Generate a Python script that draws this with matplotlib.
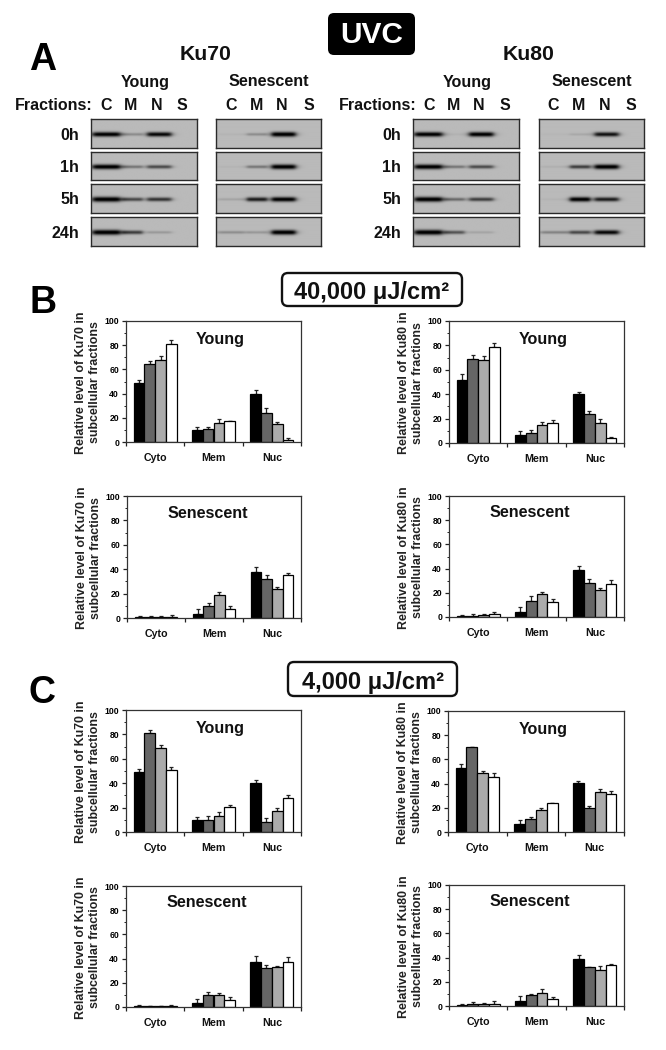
import numpy as np
import matplotlib
matplotlib.use("Agg")
import matplotlib.pyplot as plt
from matplotlib.patches import FancyBboxPatch
from matplotlib.ticker import MultipleLocator

plt.rcParams['font.family'] = ['Liberation Sans', 'DejaVu Sans']
plt.rcParams['font.weight'] = 'bold'

W, H = 666, 1050
categories = ['Cyto', 'Mem', 'Nuc']
bar_colors = ['#000000', '#666666', '#ababab', '#ffffff']
timepoints = ['0h', '1h', '5h', '24h']
lanes = ['C', 'M', 'N', 'S']

# Band strengths read from the blots: rows = timepoints, columns = C, M, N
ku70_young_bands = [[.85, .2, .8], [.95, .3, .5], [1, .5, .6], [1, .55, .15]]
ku70_sen_bands = [[.03, .2, .9], [.03, .3, .95], [.1, .7, .85], [.2, .15, .9]]
ku80_young_bands = [[.85, .03, .85], [.95, .3, .5], [.95, .35, .55], [1, .45, .1]]
ku80_sen_bands = [[.02, .08, .75], [.05, .55, .95], [.03, .85, .7], [.25, .5, .8]]

# Bar heights and error bars, rows = Cyto, Mem, Nuc; columns = four time points
b_k70_y = [[49, 64.5, 68, 81], [10, 10.5, 16, 17], [40, 24, 15, 1.5]]
b_k70_y_e = [[2.5, 2.5, 3, 3], [2.5, 2, 3, .7], [3, 4, 1.5, 1.5]]
b_k80_y = [[52, 68.5, 68, 79], [6.5, 8, 15, 16], [40.5, 23.5, 16.5, 4.5]]
b_k80_y_e = [[4.5, 4, 3, 3], [3, 2.5, 2, 3], [1.5, 3, 3, .7]]
b_k70_s = [[1, 1.2, 1, 1.2], [3, 10, 18.5, 7.5], [38, 32, 24, 35]]
b_k70_s_e = [[.6, .6, .6, 1], [4, 2.5, 3, 2.5], [4, 3, 1.5, 2]]
b_k80_s = [[1, 1, 1.5, 2.5], [4, 13.5, 19, 12.5], [38.5, 28.5, 22.5, 27.5]]
b_k80_s_e = [[.8, 1.5, 1, 2], [4.5, 3.5, 1.5, 2.5], [4, 2.5, 1.5, 3]]
c_k70_y = [[49, 81, 69, 51], [10, 10, 13.5, 20.5], [40, 8.5, 17, 28]]
c_k70_y_e = [[2.5, 2.5, 2.5, 2.5], [2.5, 3, 3, 2], [2.5, 3, 2.5, 2.5]]
c_k80_y = [[52.5, 70, 49, 45.5], [7, 10.5, 18.5, 24], [40.5, 19.5, 33, 31]]
c_k80_y_e = [[4, .3, 1.5, 3], [3, 1.5, 1.5, .2], [1.5, 2, 2.5, 3]]
c_k70_s = [[.5, .5, .5, .5], [3, 10, 10, 5.5], [37.5, 32, 33, 37.5]]
c_k70_s_e = [[1.5, .7, .5, .8], [4, 2, 1.5, 2.5], [4.5, 3, .5, 4]]
c_k80_s = [[.5, 2, 1.5, 2], [4, 9, 11, 6], [39, 32, 30, 34]]
c_k80_s_e = [[1.5, 1.5, .7, 2], [4.5, .7, 3, 1.5], [3.5, .5, 3, .5]]

fig = plt.figure(figsize=(W / 100, H / 100), dpi=100, facecolor='white')


def px_axes(x0, y0, x1, y1, **kw):
    return fig.add_axes([x0 / W, 1 - y1 / H, (x1 - x0) / W, (y1 - y0) / H], **kw)


def bar_panel(box, vals, errs, title, protein):
    ax = px_axes(*box)
    vals = np.array(vals, float)
    errs = np.array(errs, float)
    w = 0.185
    for s in range(4):
        x = np.arange(3) + 0.5 + (s - 1.5) * w
        ax.bar(x, vals[:, s], width=w, color=bar_colors[s], edgecolor='black',
               linewidth=0.9, zorder=2)
        ax.errorbar(x, vals[:, s], yerr=[np.zeros(3), errs[:, s]], fmt='none',
                    ecolor='#222222', elinewidth=0.9, capsize=1.3, capthick=0.9, zorder=1)
    ax.set_xlim(0, 3)
    ax.set_ylim(0, 100)
    ax.set_xticks([0, 1, 2, 3])
    ax.set_xticklabels([])
    ax.set_xticks([0.5, 1.5, 2.5], categories, minor=True, fontsize=7.7, fontweight='bold')
    ax.tick_params(axis='x', which='major', length=3, width=0.9, color='#222222')
    ax.tick_params(axis='x', which='minor', length=0, pad=8, labelcolor='#111111')
    ax.yaxis.set_major_locator(MultipleLocator(20))
    ax.yaxis.set_minor_locator(MultipleLocator(10))
    ax.tick_params(axis='y', which='major', length=3, width=0.9, labelsize=6.2, pad=2, color='#222222')
    ax.tick_params(axis='y', which='minor', length=1.8, width=0.7, color='#222222')
    for lab in ax.get_yticklabels():
        lab.set_fontweight('bold')
    for side in ax.spines:
        ax.spines[side].set_linewidth(0.9)
        ax.spines[side].set_color('#333333')
    tx, ty = (0.54, 0.845) if title == 'Young' else (0.462, 0.86)
    ax.text(tx, ty, title, transform=ax.transAxes, ha='center', va='center',
            fontsize=11.6, fontweight='bold', color='#111111')
    ann.text(box[0] - 38, (box[1] + box[3]) / 2 + 1,
             f'Relative level of {protein} in\nsubcellular fractions',
             rotation=90, ha='center', va='center', fontsize=8.9, fontweight='bold',
             color='#222222', linespacing=1.18)


def blot(box, row):
    ax = px_axes(*box)
    nx, ny = 210, 60
    xx = np.linspace(0, 1, nx)
    yy = np.linspace(0, 1, ny)
    X, Y = np.meshgrid(xx, yy)
    img = np.full_like(X, 0.73)
    for i, (cx, hw) in enumerate(((0.145, 0.135), (0.39, 0.10), (0.645, 0.118))):
        s = row[i]
        profile = 1 / (1 + ((X - cx) / hw) ** 8)
        sig = 0.04 + 0.05 * s
        img -= 0.78 * min(1, s * 1.15) * profile * np.exp(-((Y - 0.53) / sig) ** 2)
    ax.imshow(np.clip(img, 0, 1), cmap='gray', vmin=0, vmax=1, aspect='auto')
    ax.set_xticks([])
    ax.set_yticks([])
    for side in ax.spines:
        ax.spines[side].set_linewidth(1.0)
        ax.spines[side].set_color('#2a2a2a')


# Overlay in pixel coordinates for labels and boxes
ann = fig.add_axes([0, 0, 1, 1], zorder=5)
ann.set_xlim(0, W)
ann.set_ylim(H, 0)
ann.axis('off')
ann.patch.set_alpha(0)

# Blots
rows_y = [(119, 148), (152, 180), (184, 213), (217, 246)]
blot_sets = [((91, 197), ku70_young_bands), ((216, 321), ku70_sen_bands),
             ((413, 519), ku80_young_bands), ((539, 644), ku80_sen_bands)]
for (x0, x1), bands in blot_sets:
    for (y0, y1), row in zip(rows_y, bands):
        blot((x0, y0, x1, y1), row)

dark = '#111111'
for letter, x, y in (('A', 42.5, 60), ('B', 43, 303), ('C', 42.5, 693)):
    ann.text(x, y, letter, fontsize=27, fontweight='bold', ha='center', va='center', color='black')

ann.text(206, 54, 'Ku70', fontsize=15.3, ha='center', va='center', color=dark)
ann.text(529, 54, 'Ku80', fontsize=15.3, ha='center', va='center', color=dark)

for x, t in ((145, 'Young'), (269, 'Senescent'), (467, 'Young'), (592, 'Senescent')):
    ann.text(x, 82, t, fontsize=11.6, ha='center', va='center', color=dark)

for x, t in ((15, 'Fractions:'), (339, 'Fractions:')):
    ann.text(x, 106, t, fontsize=11.5, ha='left', va='center', color=dark)

lane_x = [[106, 131, 157, 182], [231, 257, 282, 309], [429, 454, 479, 505], [553, 579, 605, 631]]
for xs in lane_x:
    for x, t in zip(xs, lanes):
        ann.text(x, 106, t, fontsize=11.5, ha='center', va='center', color=dark)

for xr in (79, 401):
    for y, t in zip((135, 167, 200, 233), timepoints):
        ann.text(xr, y, t, fontsize=11.5, ha='right', va='center', color=dark)

# UVC box
ann.add_patch(FancyBboxPatch((332, 17), 79, 34, boxstyle='round,pad=4,rounding_size=6',
                             fc='black', ec='black', lw=0))
ann.text(372, 35, 'UVC', fontsize=21.5, color='white', ha='center', va='center')

# Dose boxes
for (x0, y0, x1, y1), ty, t in (((282, 273, 462, 306), 292, '40,000 \u03bcJ/cm\u00b2'),
                                ((288, 662, 457, 696), 682, '4,000 \u03bcJ/cm\u00b2')):
    ann.add_patch(FancyBboxPatch((x0 + 5, y0 + 5), x1 - x0 - 10, y1 - y0 - 10,
                                 boxstyle='round,pad=5,rounding_size=6', fc='white',
                                 ec='#111111', lw=1.7))
    ann.text((x0 + x1) / 2, ty, t, fontsize=17, ha='center', va='center', color=dark)

# Bar panels
bar_panel((126, 321, 301, 442), b_k70_y, b_k70_y_e, 'Young', 'Ku70')
bar_panel((449, 321, 624, 443), b_k80_y, b_k80_y_e, 'Young', 'Ku80')
bar_panel((127, 496, 301, 618), b_k70_s, b_k70_s_e, 'Senescent', 'Ku70')
bar_panel((449, 496, 624, 617), b_k80_s, b_k80_s_e, 'Senescent', 'Ku80')
bar_panel((126, 710, 301, 832), c_k70_y, c_k70_y_e, 'Young', 'Ku70')
bar_panel((448, 711, 624, 832), c_k80_y, c_k80_y_e, 'Young', 'Ku80')
bar_panel((126, 886, 301, 1007), c_k70_s, c_k70_s_e, 'Senescent', 'Ku70')
bar_panel((449, 885, 624, 1006), c_k80_s, c_k80_s_e, 'Senescent', 'Ku80')

fig.savefig('out.png', dpi=100, facecolor='white')
